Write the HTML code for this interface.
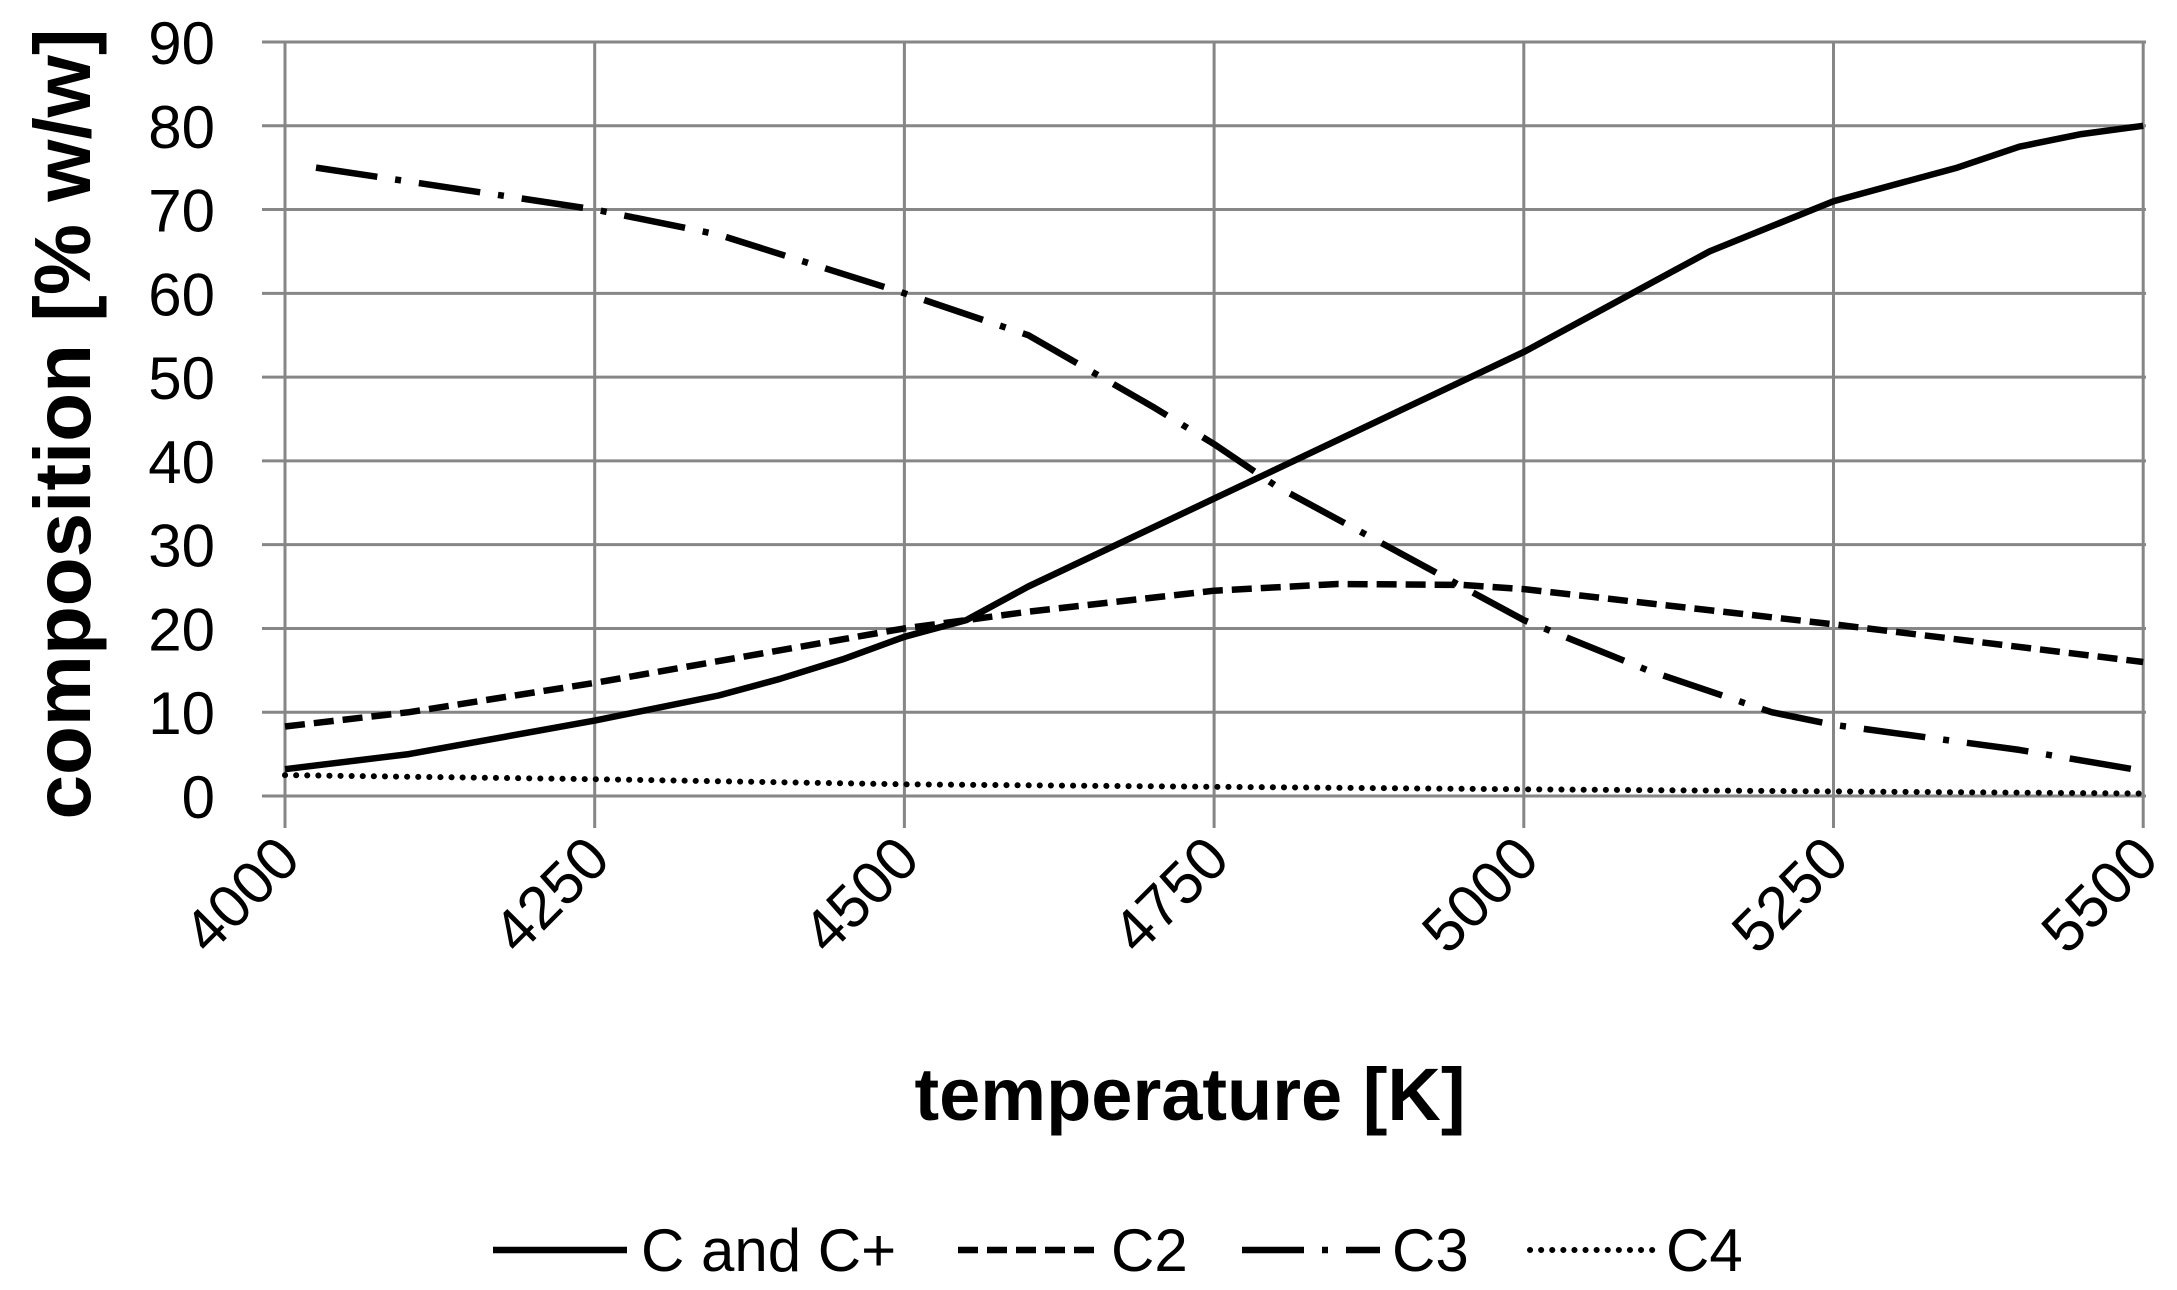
<!DOCTYPE html>
<html><head><meta charset="utf-8"><style>
html,body{margin:0;padding:0;background:#fff;}
svg{display:block;}
text{font-family:"Liberation Sans",sans-serif;fill:#000;}
</style></head><body>
<svg id="s" width="2177" height="1290" xmlns="http://www.w3.org/2000/svg">
<g id="grid" stroke="#868686" stroke-width="3"></g>
<g id="lab"></g>
<g id="ser" fill="none" stroke="#000" stroke-width="6.5" stroke-linejoin="round"></g>
<text x="0" y="0" transform="translate(90,424) rotate(-90)" text-anchor="middle" font-size="80" font-weight="bold">composition [% w/w]</text>
<text x="1190" y="1120" text-anchor="middle" font-size="74" font-weight="bold">temperature [K]</text>
<g stroke="#000" stroke-width="6.5" fill="none">
<line x1="493" y1="1250" x2="627" y2="1250"/>
<line x1="958" y1="1250" x2="1097" y2="1250" stroke-dasharray="20 9"/>
<line x1="1242" y1="1250" x2="1380" y2="1250" stroke-dasharray="62 18 6 18"/>
<line x1="1530" y1="1250" x2="1655" y2="1250" stroke-dasharray="0.1 11" stroke-linecap="round" stroke-width="6"/>
</g>
<g font-size="60">
<text x="641" y="1271">C and C+</text>
<text x="1111" y="1271">C2</text>
<text x="1392" y="1271">C3</text>
<text x="1666" y="1271">C4</text>
</g>
</svg>
<script>
var NS="http://www.w3.org/2000/svg";
function X(t){return 285+(t-4000)/250*309.7;}
function Y(v){return 796-v*8.378;}
function el(p,n,a,txt){var e=document.createElementNS(NS,n);for(var k in a)e.setAttribute(k,a[k]);if(txt)e.textContent=txt;document.getElementById(p).appendChild(e);return e;}
for(var i=0;i<=9;i++){var y=Y(i*10);el('grid','line',{x1:262,y1:y,x2:2146,y2:y});
el('lab','text',{x:215,y:y+22,'text-anchor':'end','font-size':60},String(i*10));}
for(var j=0;j<=6;j++){var x=X(4000+j*250);el('grid','line',{x1:x,y1:Y(90),x2:x,y2:828});
el('lab','text',{x:0,y:0,'text-anchor':'end','font-size':60,transform:'translate('+(x+18)+',862) rotate(-45)'},String(4000+j*250));}
function path(d,extra){var s="";d.forEach(function(p,i){s+=(i?"L":"M")+X(p[0]).toFixed(1)+","+Y(p[1]).toFixed(1);});var a={d:s};for(var k in extra)a[k]=extra[k];el('ser','path',a);}
path([[4000,3.2],[4100,5],[4250,9],[4350,12],[4400,14],[4450,16.3],[4500,19],[4550,21],[4600,25],[4750,35.5],[4800,39],[4900,46],[5000,53],[5050,57],[5100,61],[5150,65],[5250,71],[5350,75],[5400,77.5],[5450,79],[5500,80]]);
path([[4000,8.3],[4100,10],[4250,13.5],[4500,20],[4600,22],[4750,24.5],[4850,25.3],[4950,25.2],[5000,24.7],[5250,20.5],[5500,16]],{'stroke-dasharray':'20 9'});
path([[4025,75],[4250,70],[4350,67],[4500,60],[4600,55],[4700,46.5],[4750,42],[4800,37],[4900,29],[5000,21],[5100,15],[5200,10],[5250,8.5],[5400,5.5],[5500,3]],{'stroke-dasharray':'62 18 6 18'});
path([[4000,2.5],[4250,2],[4500,1.4],[5000,0.8],[5500,0.3]],{'stroke-dasharray':'0.1 11','stroke-linecap':'round','stroke-width':6});
</script>
</body></html>
